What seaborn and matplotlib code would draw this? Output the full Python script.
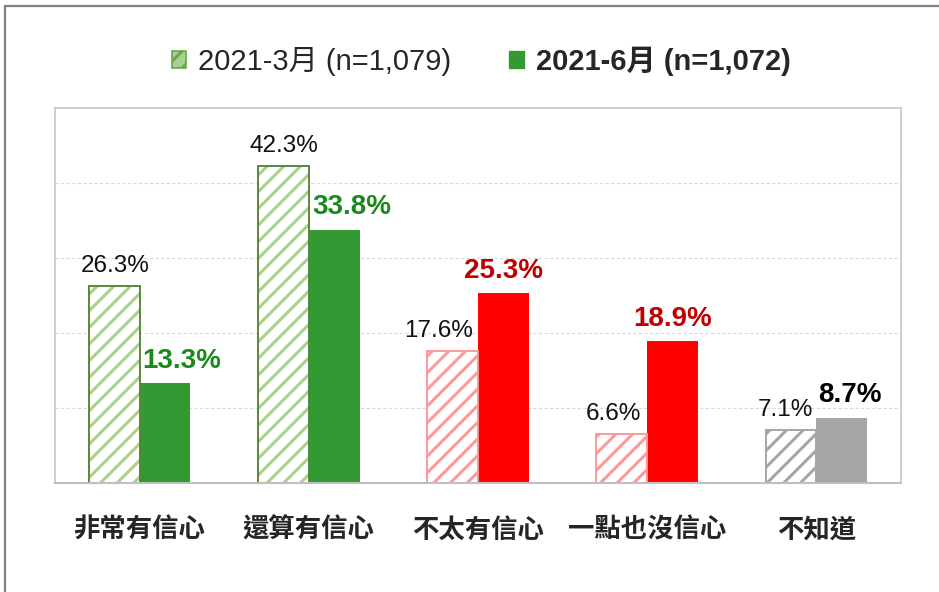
import pandas as pd
import matplotlib.pyplot as plt
import seaborn as sns
from matplotlib.patches import Patch, Rectangle
from matplotlib.lines import Line2D

# data
categories = ['非常有信心', '還算有信心', '不太有信心', '一點也沒信心', '不知道']
periods = ['2021-3月 (n=1,079)', '2021-6月 (n=1,072)']
march = [26.3, 42.3, 17.6, 6.6, 7.1]
june = [13.3, 33.8, 25.3, 18.9, 8.7]

# colours per category
solid_colors = ['#339933', '#339933', '#ff0000', '#ff0000', '#a6a6a6']
hatch_colors = ['#a9d18e', '#a9d18e', '#ff9999', '#ff9999', '#a6a6a6']
outline_colors = ['#548235', '#548235', '#ff9999', '#ff9999', '#a6a6a6']
june_label_colors = ['#1a8a1a', '#1a8a1a', '#c00000', '#c00000', '#000000']
# small horizontal nudges of value labels (px), as in the reference
march_dx = [1, 1, -14, -8, -6]
june_dx = [17, 18, 0, 0, 8]

df = pd.DataFrame({
    'category': categories * 2,
    'period': [periods[0]] * len(categories) + [periods[1]] * len(categories),
    'value': march + june,
})

sns.set_style('white')
plt.rcParams['font.family'] = ['Liberation Sans', 'Noto Sans CJK TC']
plt.rcParams['hatch.linewidth'] = 2.2

fig = plt.figure(figsize=(9.39, 5.92), dpi=100)
ax = fig.add_axes([55 / 939, 1 - 483 / 592, 846 / 939, 375 / 592])

sns.barplot(data=df, x='category', y='value', hue='period', order=categories,
            hue_order=periods, width=0.6, errorbar=None, legend=False, ax=ax)

hatched, solid = ax.containers[0], ax.containers[1]
for i, p in enumerate(hatched.patches):
    p.set_facecolor('white')
    p.set_edgecolor(hatch_colors[i])
    p.set_hatch('//')
    p.set_linewidth(1.2)
    ax.add_patch(Rectangle(p.get_xy(), p.get_width(), p.get_height(), fill=False,
                           edgecolor=outline_colors[i], linewidth=1.3, zorder=p.get_zorder() + 0.1))
    ax.annotate(f'{march[i]:.1f}%', xy=(p.get_x() + p.get_width() / 2, p.get_height()),
                xytext=(march_dx[i] * 0.72, 10), textcoords='offset points',
                ha='center', va='baseline', fontsize=17.5, color='#111111')
for i, p in enumerate(solid.patches):
    p.set_facecolor(solid_colors[i])
    p.set_edgecolor(solid_colors[i])
    p.set_linewidth(0)
    ax.annotate(f'{june[i]:.1f}%', xy=(p.get_x() + p.get_width() / 2, p.get_height()),
                xytext=(june_dx[i] * 0.72, 11), textcoords='offset points',
                ha='center', va='baseline', fontsize=20, fontweight='bold',
                color=june_label_colors[i])

ax.set_ylim(0, 50)
ax.set_xlim(-0.5, len(categories) - 0.5)
ax.set_yticks([10, 20, 30, 40])
ax.yaxis.grid(True, color='#d9d9d9', linestyle=(0, (3, 2)), linewidth=0.8)
ax.set_axisbelow(True)
ax.tick_params(axis='y', left=False, labelleft=False)
ax.set_xlabel('')
ax.set_ylabel('')
ax.set_xticks(range(len(categories)))
ax.set_xticklabels(categories, fontsize=19, family='Noto Sans CJK TC', fontweight='bold')
ax.tick_params(axis='x', length=0, pad=24)
ax.set_xticks([0.5, 1.5, 2.5, 3.5], minor=True)
ax.tick_params(axis='x', which='minor', direction='in', length=7, width=1, color='#bfbfbf')

for side in ['left', 'top', 'right']:
    ax.spines[side].set_visible(True)
    ax.spines[side].set_color('#c8c8c8')
    ax.spines[side].set_linewidth(1.2)
ax.spines['bottom'].set_color('#bfbfbf')
ax.spines['bottom'].set_linewidth(1.5)

# legend
handles = [
    Patch(facecolor='#a9d18e', edgecolor='#6aa84f', hatch='//', linewidth=1.2),
    Patch(facecolor='#339933', edgecolor='#339933'),
]
leg = fig.legend(handles, periods, loc='center', bbox_to_anchor=(481 / 939, 1 - 61 / 592),
                 ncol=2, frameon=False, fontsize=21, handlelength=0.5, handleheight=0.5,
                 handletextpad=0.4, columnspacing=2.0)
leg.get_texts()[1].set_fontweight('bold')
for h in leg.legend_handles[:1]:
    h.set_edgecolor('#6aa84f')

# outer frame (left and top edges)
fig.add_artist(Line2D([5 / 939, 5 / 939], [0, 1 - 6 / 592], color='#808080', linewidth=1.6))
fig.add_artist(Line2D([5 / 939, 1], [1 - 6 / 592, 1 - 6 / 592], color='#808080', linewidth=1.6))

fig.savefig('out.png', dpi=100)
